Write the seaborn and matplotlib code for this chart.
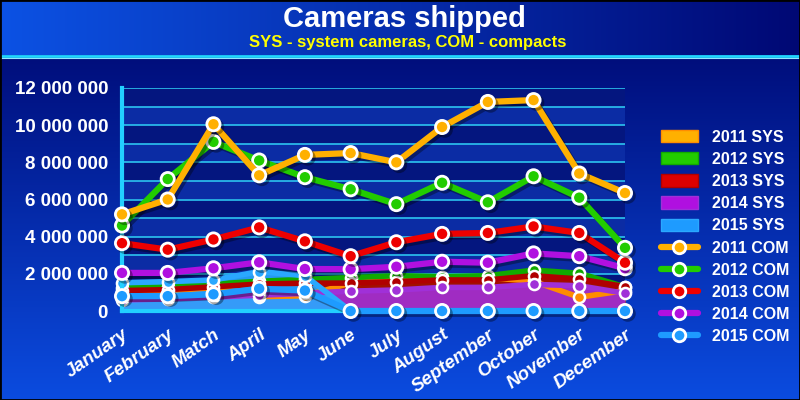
import numpy as np
import matplotlib
matplotlib.use('Agg')
import matplotlib.pyplot as plt
import matplotlib.patheffects as pe
from matplotlib.patches import Patch
from matplotlib.lines import Line2D
from matplotlib.ticker import FuncFormatter, MultipleLocator
import seaborn as sns

# Dane (w milionach sztuk)
months = ['January', 'February', 'Match', 'April', 'May', 'June', 'July',
          'August', 'September', 'October', 'November', 'December']

sys_2011 = [1.0, 1.1, 1.25, 0.77, 0.82, 1.5, 1.7, 1.75, 1.8, 1.6, 0.74, 1.1]
sys_2012 = [1.25, 1.3, 1.45, 1.6, 1.7, 1.8, 1.9, 1.85, 1.9, 2.2, 2.03, 1.3]
sys_2013 = [1.1, 1.15, 1.3, 1.45, 1.5, 1.5, 1.58, 1.67, 1.67, 1.9, 1.72, 1.31]
sys_2014 = [0.6, 0.65, 0.75, 0.85, 0.95, 1.07, 1.13, 1.27, 1.27, 1.43, 1.36, 0.95]
sys_2015 = [1.52, 1.58, 1.67, 2.12, 1.9, 0, 0, 0, 0, 0, 0, 0]

com_2011 = [5.2, 6.0, 10.05, 7.3, 8.4, 8.5, 8.0, 9.9, 11.25, 11.35, 7.4, 6.35]
com_2012 = [4.6, 7.1, 9.1, 8.1, 7.2, 6.55, 5.75, 6.9, 5.85, 7.25, 6.1, 3.4]
com_2013 = [3.65, 3.3, 3.85, 4.5, 3.75, 2.95, 3.7, 4.15, 4.2, 4.55, 4.2, 2.6]
com_2014 = [2.05, 2.05, 2.3, 2.62, 2.26, 2.25, 2.38, 2.65, 2.6, 3.1, 2.95, 2.3]
com_2015 = [0.8, 0.8, 0.9, 1.2, 1.1, 0, 0, 0, 0, 0, 0, 0]

years = ['2011', '2012', '2013', '2014', '2015']
sys_data = [sys_2011, sys_2012, sys_2013, sys_2014, sys_2015]
com_data = [com_2011, com_2012, com_2013, com_2014, com_2015]

line_colors = ['#ffb000', '#22cc00', '#ee0000', '#b010e0', '#1e9bff']
fill_colors = ['#ff8c00', '#11aa00', '#b00000', '#a030d8', '#2aa8ff']

sns.set_style('dark')
plt.rcParams['font.family'] = ['Liberation Sans', 'DejaVu Sans']

fig = plt.figure(figsize=(8, 4), dpi=100)

# Tło z gradientem
bg = fig.add_axes([0, 0, 1, 1], zorder=-10)
H, W = 400, 800
yy, xx = np.mgrid[0:H, 0:W]
c_top = np.array([0x00, 0x0e, 0x7c]) / 255
c_bot = np.array([0x0b, 0x4c, 0xe0]) / 255
t = np.clip((yy - 58) / (H - 58), 0, 1)[..., None]
img = c_top * (1 - t) + c_bot * t
s = (xx / W)[..., None]
c_left = np.array([0x0c, 0x52, 0xe4]) / 255
c_right = np.array([0x00, 0x08, 0x74]) / 255
title_bar = c_left * (1 - s) + c_right * s
img = np.where((yy < 55)[..., None], title_bar, img)
bg.imshow(img, extent=[0, W, H, 0], aspect='auto')
bg.set_xlim(0, W)
bg.set_ylim(H, 0)
bg.axhline(55.5, color='#20d8ff', lw=2)
bg.axhline(57.5, color='#8fe8ff', lw=0.8)
bg.axis('off')
fig.patches.append(plt.Rectangle((0, 0), 1, 1, transform=fig.transFigure,
                                 fill=False, edgecolor='black', lw=2))

# Wykres główny
ax = fig.add_axes([122 / 800, 1 - 311 / 400, (625 - 122) / 800, (311 - 88) / 400])
ax.set_facecolor('#061a86')
x = np.arange(12)

for k in range(12):
    ax.axhspan(k * 1e6, (k + 1) * 1e6, color='#0b2ca4' if k % 2 == 0 else '#04167f',
               zorder=0, lw=0)
for k in range(13):
    ax.axhline(k * 1e6, color='#2cc4f0', lw=1.2, zorder=1)

shadow = [pe.SimpleLineShadow(offset=(2, -2), shadow_color='black', alpha=0.35), pe.Normal()]

# SYS - obszary
order = [1, 0, 2, 3, 4]
for i in order:
    vals = np.array(sys_data[i]) * 1e6
    ax.fill_between(x, 0, vals, color=fill_colors[i], alpha=0.9, lw=0, zorder=2 + i * 0.1)
for i in order:
    vals = np.array(sys_data[i]) * 1e6
    sns.lineplot(x=x, y=vals, ax=ax, color=fill_colors[i], lw=4, marker='o',
                 markersize=8, markeredgecolor='white', markeredgewidth=1.8,
                 zorder=3 + i * 0.1, clip_on=False)

# COM - linie
for i in [4, 3, 2, 1, 0]:
    vals = np.array(com_data[i]) * 1e6
    sns.lineplot(x=x, y=vals, ax=ax, color=line_colors[i], lw=4.5, marker='o',
                 markersize=9.5, markeredgecolor='white', markeredgewidth=2,
                 zorder=5 + (4 - i) * 0.1, clip_on=False, path_effects=shadow)

ax.set_xlim(0, 11)
ax.set_ylim(0, 12e6)
ax.yaxis.set_major_locator(MultipleLocator(2e6))
ax.yaxis.set_major_formatter(FuncFormatter(lambda v, p: f'{int(round(v)):,}'.replace(',', ' ')))
ax.set_xticks(x)
ax.set_xticklabels(months, rotation=35, ha='right', va='top', rotation_mode='anchor',
                   fontstyle='italic')
ax.tick_params(axis='both', colors='#22d0ff', labelcolor='white', labelsize=13.5,
               length=7, width=2, direction='out')
ax.tick_params(axis='x', pad=4)
ax.tick_params(axis='y', pad=3)
for lab in ax.get_xticklabels() + ax.get_yticklabels():
    lab.set_fontweight('bold')
for sp in ['top', 'right']:
    ax.spines[sp].set_visible(False)
for sp in ['left', 'bottom']:
    ax.spines[sp].set_color('#22d0ff')
    ax.spines[sp].set_linewidth(3)
    ax.spines[sp].set_zorder(4)
ax.set_xlabel('')
ax.set_ylabel('')
ax.grid(False)

# Legenda
handles = []
labels = []
for i, y in enumerate(years):
    handles.append(Patch(facecolor=line_colors[i] if i != 2 else '#dd0000',
                         edgecolor=fill_colors[i], lw=1))
    labels.append(f'{y} SYS')
for i, y in enumerate(years):
    handles.append(Line2D([], [], color=line_colors[i], lw=4.5, marker='o', markersize=9,
                          markeredgecolor='white', markeredgewidth=2))
    labels.append(f'{y} COM')
leg = fig.legend(handles, labels, loc='upper left', bbox_to_anchor=(0.808, 0.712),
                 frameon=False, fontsize=11.5, labelcolor='white', labelspacing=0.45,
                 handlelength=2.3, handleheight=0.8, handletextpad=0.9)
for txt in leg.get_texts():
    txt.set_fontweight('bold')

# Tytuł
fig.text(0.506, 1 - 19 / 400, 'Cameras shipped', ha='center', va='center',
         fontsize=21, fontweight='bold', color='white')
fig.text(0.51, 1 - 42 / 400, 'SYS - system cameras, COM - compacts', ha='center',
         va='center', fontsize=12, fontweight='bold', color='#ffff00')

fig.savefig('out.png', dpi=100)
